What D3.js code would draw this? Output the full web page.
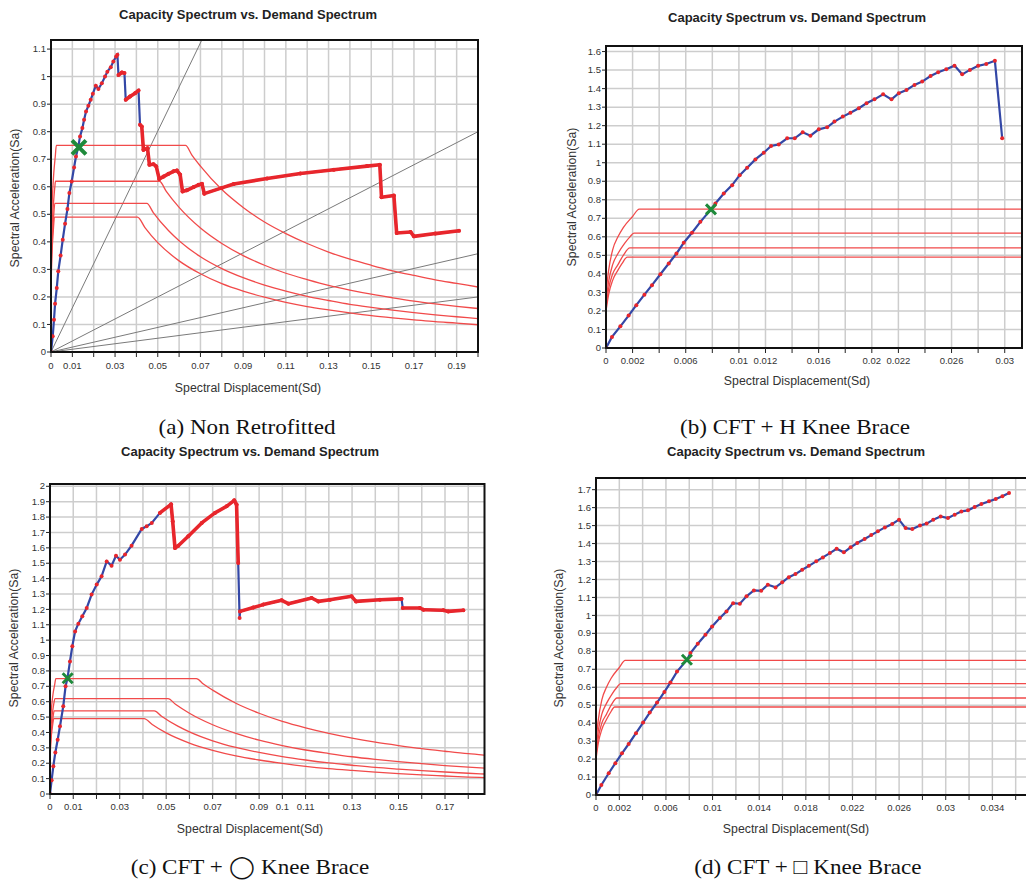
<!DOCTYPE html>
<html>
<head>
<meta charset="utf-8">
<script src="https://cdn.jsdelivr.net/npm/d3@7"></script>
<style>
  body { margin: 0; background: #fff; }
  svg { display: block; }
</style>
</head>
<body>
<svg id="canvas" width="1026" height="884"></svg>
<script>
'use strict';

/* capacity curves [Sd, Sa] */
const capacityA = [
  [0,0],[0.0008,0.057],[0.0014,0.117],[0.0019,0.175],[0.0027,0.232],[0.0034,0.293],[0.0045,0.35],
  [0.0055,0.408],[0.0066,0.466],[0.0077,0.519],[0.0086,0.577],[0.0097,0.619],[0.0108,0.67],
  [0.0117,0.71],[0.0128,0.746],[0.0136,0.783],[0.0147,0.813],[0.0155,0.843],[0.0164,0.873],
  [0.0175,0.894],[0.0186,0.916],[0.0196,0.938],[0.021,0.967],[0.0222,0.955],[0.0238,0.976],
  [0.0253,1.0],[0.0264,1.018],[0.028,1.034],[0.0292,1.055],[0.0305,1.073],[0.0311,1.079],
  [0.0316,1.006],[0.0332,1.015],[0.0344,1.013],[0.035,0.916],[0.037,0.928],[0.0394,0.94],
  [0.041,0.95],[0.0417,0.825],[0.0425,0.819],[0.0433,0.734],[0.0452,0.74],[0.0461,0.68],
  [0.048,0.682],[0.0493,0.674],[0.0507,0.628],[0.0527,0.637],[0.055,0.647],[0.0574,0.656],
  [0.059,0.659],[0.0605,0.644],[0.0616,0.583],[0.0636,0.587],[0.0668,0.599],[0.0691,0.607],
  [0.0707,0.611],[0.0718,0.575],[0.08,0.596],[0.0856,0.61],[0.1012,0.63],[0.1168,0.648],
  [0.1325,0.662],[0.148,0.675],[0.154,0.68],[0.1548,0.562],[0.1606,0.568],[0.1619,0.432],
  [0.1684,0.436],[0.17,0.42],[0.18,0.43],[0.1911,0.44]
];
const capacityB = [
  [0,0],[0.00045,0.06],[0.00108,0.117],[0.0017,0.175],[0.00228,0.231],[0.00289,0.288],
  [0.00346,0.339],[0.00409,0.398],[0.00472,0.456],[0.0053,0.51],[0.00585,0.568],[0.00647,0.622],
  [0.0071,0.681],[0.0079,0.748],[0.00823,0.78],[0.00886,0.834],[0.00949,0.879],[0.01006,0.933],
  [0.01062,0.973],[0.01124,1.018],[0.01187,1.054],[0.01242,1.09],[0.013,1.099],[0.01363,1.132],
  [0.0142,1.132],[0.0148,1.164],[0.01538,1.146],[0.01601,1.18],[0.01664,1.191],[0.01719,1.222],
  [0.01782,1.249],[0.01839,1.27],[0.01902,1.294],[0.0196,1.321],[0.0202,1.342],[0.02085,1.369],
  [0.02148,1.342],[0.02203,1.375],[0.02261,1.393],[0.02321,1.42],[0.02379,1.438],[0.02442,1.468],
  [0.02499,1.488],[0.0256,1.505],[0.02622,1.524],[0.0268,1.477],[0.02738,1.501],[0.028,1.523],
  [0.02861,1.533],[0.02926,1.55],[0.02981,1.132]
];
const capacityC = [
  [0,0],[0.0007,0.09],[0.00143,0.18],[0.0023,0.27],[0.0033,0.353],[0.0043,0.44],[0.0057,0.57],
  [0.0067,0.7],[0.0075,0.75],[0.0086,0.862],[0.0096,0.96],[0.0108,1.057],[0.0122,1.107],
  [0.0139,1.155],[0.0158,1.209],[0.0179,1.296],[0.0201,1.361],[0.0222,1.415],[0.0244,1.512],
  [0.0265,1.484],[0.0284,1.549],[0.0301,1.523],[0.0323,1.556],[0.0351,1.614],[0.0395,1.723],
  [0.0416,1.74],[0.0438,1.762],[0.0473,1.827],[0.0521,1.883],[0.0528,1.772],[0.0538,1.599],
  [0.0552,1.614],[0.0595,1.675],[0.0653,1.762],[0.071,1.827],[0.076,1.87],[0.0793,1.909],
  [0.0803,1.881],[0.081,1.502],[0.0816,1.144],[0.0818,1.187],[0.0875,1.212],[0.0918,1.231],
  [0.0997,1.259],[0.1026,1.237],[0.1126,1.274],[0.1155,1.252],[0.1205,1.263],[0.1298,1.285],
  [0.1317,1.252],[0.142,1.263],[0.1513,1.268],[0.1518,1.209],[0.1592,1.209],[0.1607,1.198],
  [0.1693,1.194],[0.1714,1.187],[0.1779,1.194]
];
const capacityD = [
  [0,0],[0.00046,0.056],[0.00109,0.121],[0.00166,0.177],[0.00223,0.232],[0.0028,0.284],
  [0.00343,0.344],[0.00404,0.403],[0.00461,0.459],[0.00524,0.515],[0.00587,0.574],[0.00638,0.626],
  [0.00695,0.687],[0.00781,0.753],[0.0081,0.79],[0.00873,0.842],[0.00939,0.892],[0.00996,0.938],
  [0.01062,0.985],[0.01119,1.022],[0.01176,1.068],[0.01234,1.065],[0.01291,1.106],[0.01354,1.139],
  [0.01417,1.137],[0.01474,1.171],[0.0154,1.156],[0.01597,1.184],[0.01654,1.213],[0.01711,1.23],
  [0.01769,1.254],[0.01826,1.276],[0.01889,1.301],[0.01946,1.323],[0.02006,1.347],[0.02064,1.371],
  [0.02126,1.351],[0.02184,1.379],[0.02241,1.403],[0.02304,1.425],[0.02361,1.447],[0.02418,1.468],
  [0.02478,1.49],[0.02541,1.509],[0.02599,1.533],[0.02656,1.486],[0.02713,1.481],[0.02779,1.501],
  [0.02836,1.511],[0.02893,1.533],[0.02956,1.551],[0.03019,1.542],[0.03077,1.561],[0.03134,1.579],
  [0.03191,1.585],[0.03248,1.603],[0.03306,1.62],[0.03371,1.635],[0.03429,1.648],[0.03486,1.663],
  [0.03543,1.682]
];

/* demand spectra [Sd, Sa], the same four curves in every panel */
const demand075 = [
  [0,0.30],[0.0002,0.42],[0.0005,0.53],[0.0009,0.6],[0.0013,0.65],[0.002,0.71],[0.0025,0.75],
  [0.063,0.75],[0.066,0.715],[0.07,0.675],[0.08,0.59],[0.09,0.525],[0.1,0.472],[0.11,0.43],
  [0.12,0.394],[0.13,0.363],[0.14,0.337],[0.15,0.315],[0.16,0.295],[0.17,0.278],[0.18,0.262],
  [0.19,0.249],[0.2,0.236]
];
const demand062 = [
  [0,0.25],[0.0002,0.36],[0.0005,0.45],[0.0009,0.51],[0.0014,0.565],[0.0018,0.6],[0.0021,0.62],
  [0.0508,0.62],[0.054,0.583],[0.06,0.525],[0.07,0.45],[0.08,0.394],[0.09,0.35],[0.1,0.315],
  [0.11,0.286],[0.12,0.263],[0.13,0.242],[0.14,0.225],[0.15,0.21],[0.16,0.197],[0.17,0.185],
  [0.18,0.175],[0.19,0.166],[0.2,0.158]
];
const demand054 = [
  [0,0.22],[0.0002,0.32],[0.0005,0.4],[0.0009,0.45],[0.0013,0.5],[0.0018,0.54],[0.0449,0.54],
  [0.048,0.505],[0.055,0.441],[0.06,0.404],[0.07,0.346],[0.08,0.303],[0.09,0.27],[0.1,0.243],
  [0.11,0.221],[0.12,0.202],[0.13,0.187],[0.14,0.173],[0.15,0.162],[0.16,0.152],[0.17,0.143],
  [0.18,0.135],[0.19,0.128],[0.2,0.121]
];
const demand049 = [
  [0,0.2],[0.0002,0.29],[0.0005,0.365],[0.0009,0.42],[0.0012,0.455],[0.0016,0.49],[0.0405,0.49],
  [0.044,0.452],[0.05,0.397],[0.06,0.331],[0.07,0.284],[0.08,0.248],[0.09,0.221],[0.1,0.199],
  [0.11,0.18],[0.12,0.165],[0.13,0.153],[0.14,0.142],[0.15,0.132],[0.16,0.124],[0.17,0.117],
  [0.18,0.11],[0.19,0.105],[0.2,0.099]
];

/* constant period lines of panel (a): end point of each ray from the origin */
const periodLinesA = [[0.0707,1.134],[0.2,0.8],[0.2,0.357],[0.2,0.2]];

/* performance points */
const perfA = [0.0131,0.743];
const perfB = [0.0079,0.748];
const perfC = [0.0076,0.752];
const perfD = [0.0078,0.753];

/* x tick labels shown on each panel */
const xLabelsA = [0,0.01,0.03,0.05,0.07,0.09,0.11,0.13,0.15,0.17,0.19];
const xLabelsB = [0,0.002,0.006,0.01,0.012,0.016,0.02,0.022,0.026,0.03];
const xLabelsC = [0,0.01,0.03,0.05,0.07,0.09,0.1,0.11,0.13,0.15,0.17];
const xLabelsD = [0,0.002,0.006,0.01,0.014,0.018,0.022,0.026,0.03,0.034];

const titleText = 'Capacity Spectrum vs. Demand Spectrum';
const xTitleText = 'Spectral Displacement(Sd)';
const yTitleText = 'Spectral Acceleration(Sa)';
const captions = ['(a) Non Retrofitted', '(b) CFT + H Knee Brace',
                  '(c) CFT + \u25EF Knee Brace', '(d) CFT + \u25A1 Knee Brace'];

/* layout of each panel, in page pixels */
const panels = [
  { cap: capacityA, xd: [0,0.2], xr: [51,478], yd: [0,1.133], yr: [352,40],
    xStep: 0.01, xGridMax: 0.2, yMax: 1.1, xLabels: xLabelsA,
    cx: 248, titleY: 19, tickY: 369, xTitleY: 392, yTitleX: 15, yTitleY: 198,
    capX: 247, capY: 434, perf: perfA, markS: 7, markW: 4, period: true, denseFrom: 0.0316 },
  { cap: capacityB, xd: [0,0.0313], xr: [606,1022], yd: [0,1.63], yr: [348,46],
    xStep: 0.002, xGridMax: 0.03, yMax: 1.6, xLabels: xLabelsB,
    cx: 797, titleY: 22, tickY: 364, xTitleY: 385, yTitleX: 572, yTitleY: 197,
    capX: 795, capY: 434, perf: perfB, markS: 5, markW: 3, period: false, denseFrom: 1 },
  { cap: capacityC, xd: [0,0.187], xr: [50,484.5], yd: [0,2.015], yr: [794,484],
    xStep: 0.01, xGridMax: 0.18, yMax: 2.0, xLabels: xLabelsC,
    cx: 250, titleY: 456, tickY: 810, xTitleY: 833, yTitleX: 14, yTitleY: 638,
    capX: 250, capY: 874, perf: perfC, markS: 5, markW: 3, period: false, denseFrom: 0.0473 },
  { cap: capacityD, xd: [0,0.0374], xr: [596,1032], yd: [0,1.765], yr: [795,478],
    xStep: 0.002, xGridMax: 0.036, yMax: 1.7, xLabels: xLabelsD,
    cx: 796, titleY: 456, tickY: 811, xTitleY: 833, yTitleX: 559, yTitleY: 638,
    capX: 808, capY: 874, perf: perfD, markS: 5, markW: 3, period: false, denseFrom: 1 }
];

const svg = d3.select('#canvas');
const sans = 'Arial, "Liberation Sans", sans-serif';
const fmt = d3.format('~g');

panels.forEach((p, i) => {
  const x = d3.scaleLinear().domain(p.xd).range(p.xr);
  const y = d3.scaleLinear().domain(p.yd).range(p.yr);
  const g = svg.append('g').attr('id', 'panel' + i);

  /* clip region for the plotted data */
  g.append('clipPath').attr('id', 'clip' + i)
    .append('rect')
    .attr('x', p.xr[0]).attr('y', p.yr[1])
    .attr('width', p.xr[1] - p.xr[0]).attr('height', p.yr[0] - p.yr[1]);

  /* grid */
  const xGrid = d3.range(0, p.xGridMax + p.xStep / 2, p.xStep);
  const yGrid = d3.range(0, p.yMax + 0.05, 0.1);
  g.append('g').selectAll('line').data(xGrid).join('line')
    .attr('x1', d => x(d)).attr('x2', d => x(d))
    .attr('y1', p.yr[0]).attr('y2', p.yr[1])
    .attr('stroke', '#cdcdcd').attr('stroke-width', 1.5);
  g.append('g').selectAll('line').data(yGrid).join('line')
    .attr('x1', p.xr[0]).attr('x2', p.xr[1])
    .attr('y1', d => y(d)).attr('y2', d => y(d))
    .attr('stroke', '#cdcdcd').attr('stroke-width', 1.5);

  const data = g.append('g').attr('clip-path', 'url(#clip' + i + ')');
  const line = d3.line().x(d => x(d[0])).y(d => y(d[1]));

  /* constant period rays */
  if (p.period) {
    data.selectAll('line.period').data(periodLinesA).join('line')
      .attr('class', 'period')
      .attr('x1', x(0)).attr('y1', y(0))
      .attr('x2', d => x(d[0])).attr('y2', d => y(d[1]))
      .attr('stroke', '#7a7a7a').attr('stroke-width', 1);
  }

  /* demand spectra */
  const smooth = d3.line().x(d => x(d[0])).y(d => y(d[1])).curve(d3.curveMonotoneX);
  [demand075, demand062, demand054, demand049].forEach(dm => {
    data.append('path').attr('d', smooth(dm))
      .attr('fill', 'none').attr('stroke', '#f14a4a').attr('stroke-width', 1.3);
  });

  /* capacity curve */
  data.append('path').attr('d', line(p.cap))
    .attr('fill', 'none').attr('stroke', '#3347a6').attr('stroke-width', 2.2);

  /* dense marker sections drawn as a thick red trace, vertical drops left blue */
  const segs = [];
  for (let k = 1; k < p.cap.length; k++) {
    const a = p.cap[k - 1], b = p.cap[k];
    if (a[0] >= p.denseFrom && Math.abs(x(b[0]) - x(a[0])) > 1.5) segs.push([a, b]);
  }
  data.selectAll('path.dense').data(segs).join('path')
    .attr('class', 'dense').attr('d', d => line(d))
    .attr('fill', 'none').attr('stroke', '#e8262c').attr('stroke-width', 3.6)
    .attr('stroke-linecap', 'round');

  data.selectAll('circle').data(p.cap).join('circle')
    .attr('cx', d => x(d[0])).attr('cy', d => y(d[1]))
    .attr('r', 2).attr('fill', '#e8262c');

  /* performance point */
  const s = p.markS;
  g.append('path')
    .attr('transform', 'translate(' + x(p.perf[0]) + ',' + y(p.perf[1]) + ')')
    .attr('d', 'M' + (-s) + ',' + (-s) + 'L' + s + ',' + s + 'M' + (-s) + ',' + s + 'L' + s + ',' + (-s))
    .attr('stroke', '#1f8a3b').attr('stroke-width', p.markW);

  /* frame */
  g.append('rect')
    .attr('x', p.xr[0]).attr('y', p.yr[1])
    .attr('width', p.xr[1] - p.xr[0]).attr('height', p.yr[0] - p.yr[1])
    .attr('fill', 'none').attr('stroke', '#111').attr('stroke-width', 2);

  /* tick marks */
  g.append('g').selectAll('line').data(xGrid).join('line')
    .attr('x1', d => x(d)).attr('x2', d => x(d))
    .attr('y1', p.yr[0]).attr('y2', p.yr[0] + 5)
    .attr('stroke', '#222').attr('stroke-width', 1);
  g.append('g').selectAll('line').data(yGrid).join('line')
    .attr('x1', p.xr[0] - 4).attr('x2', p.xr[0])
    .attr('y1', d => y(d)).attr('y2', d => y(d))
    .attr('stroke', '#222').attr('stroke-width', 1);

  /* tick labels */
  g.append('g').selectAll('text').data(p.xLabels).join('text')
    .attr('x', d => x(d)).attr('y', p.tickY)
    .attr('text-anchor', 'middle')
    .style('font', '9.5px ' + sans).attr('fill', '#333')
    .text(d => fmt(d));
  g.append('g').selectAll('text').data(yGrid).join('text')
    .attr('x', p.xr[0] - 5).attr('y', d => y(d)).attr('dy', '0.33em')
    .attr('text-anchor', 'end')
    .style('font', '9.5px ' + sans).attr('fill', '#333')
    .text(d => fmt(+d.toFixed(1)));

  /* titles */
  g.append('text').attr('x', p.cx).attr('y', p.titleY)
    .attr('text-anchor', 'middle')
    .style('font', 'bold 13px ' + sans).attr('fill', '#222')
    .text(titleText);
  g.append('text').attr('x', p.cx).attr('y', p.xTitleY)
    .attr('text-anchor', 'middle')
    .style('font', '12.3px ' + sans).attr('fill', '#333')
    .text(xTitleText);
  g.append('text')
    .attr('transform', 'translate(' + p.yTitleX + ',' + p.yTitleY + ') rotate(-90)')
    .attr('dy', '0.35em').attr('text-anchor', 'middle')
    .style('font', '12.3px ' + sans).attr('fill', '#333')
    .text(yTitleText);

  /* caption under the panel */
  g.append('text')
    .attr('transform', 'translate(' + p.capX + ',' + p.capY + ') scale(1.05,1)')
    .attr('text-anchor', 'middle')
    .style('font', '22px "Liberation Serif", "Times New Roman", serif').attr('fill', '#111')
    .text(captions[i]);
});
</script>
</body>
</html>
